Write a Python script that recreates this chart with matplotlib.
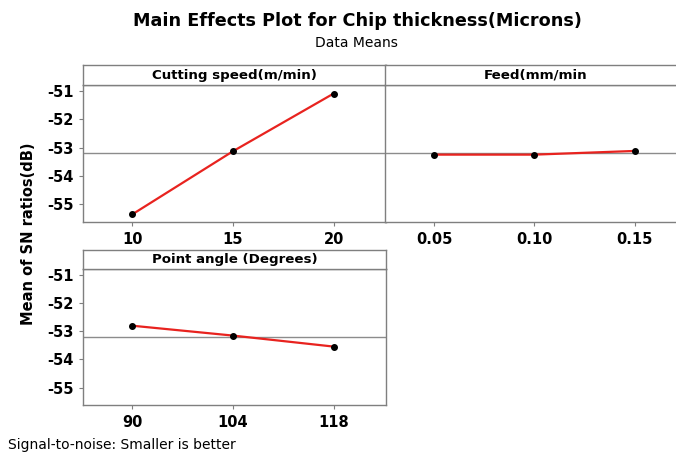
import matplotlib
matplotlib.use("Agg")
import matplotlib.pyplot as plt
import numpy as np

# Data
speed_levels = ["10", "15", "20"]
speed_sn = [-55.35, -53.13, -51.10]
feed_levels = ["0.05", "0.10", "0.15"]
feed_sn = [-53.25, -53.25, -53.12]
angle_levels = ["90", "104", "118"]
angle_sn = [-52.81, -53.16, -53.55]
overall_mean = -53.2
yticks = [-55, -54, -53, -52, -51]

titles = ["Cutting speed(m/min)", "Feed(mm/min", "Point angle (Degrees)"]

W, H = 676, 462
fig = plt.figure(figsize=(W / 100, H / 100), dpi=100)
plt.rcParams['font.family'] = ['DejaVu Sans']

frame_col = "#7f7f7f"

def fx(px):
    return px / W

def fy(py):
    return 1 - py / H

def make_panel(x0, x1, ytop_header, y_header_bot, y_bot, levels, values, title, show_y):
    ax = fig.add_axes([fx(x0), fy(y_bot), fx(x1) - fx(x0), fy(y_header_bot) - fy(y_bot)])
    hx = fig.add_axes([fx(x0), fy(y_header_bot), fx(x1) - fx(x0), fy(ytop_header) - fy(y_header_bot)])
    hx.set_xticks([]); hx.set_yticks([])
    for s in hx.spines.values():
        s.set_color(frame_col); s.set_linewidth(1.0)
    hx.text(0.5, 0.5, title, ha="center", va="center", fontsize=9.6, fontweight="bold", transform=hx.transAxes)
    x = np.arange(len(levels))
    ax.axhline(overall_mean, color="#8c8c8c", lw=1.0, zorder=1)
    ax.plot(x, values, color="#e8231f", lw=1.6, zorder=2)
    ax.plot(x, values, "o", color="black", ms=4, zorder=3)
    ax.set_xlim(-0.49, 2.52)
    ax.set_ylim(-55.62, -50.8)
    ax.set_xticks(x)
    ax.set_xticklabels(levels, fontsize=10.5, fontweight="bold")
    ax.set_yticks(yticks)
    if show_y:
        ax.set_yticklabels([str(t) for t in yticks], fontsize=10.5, fontweight="bold")
    else:
        ax.tick_params(axis="y", left=False, labelleft=False)
    ax.tick_params(axis="both", direction="out", length=3, color=frame_col, pad=4)
    for s in ax.spines.values():
        s.set_color(frame_col); s.set_linewidth(1.0)
    return ax

make_panel(83, 386, 65, 85, 222, speed_levels, speed_sn, titles[0], True)
make_panel(385, 687, 65, 85, 222, feed_levels, feed_sn, titles[1], False)
make_panel(83, 386, 250, 269, 405, angle_levels, angle_sn, titles[2], True)

fig.text(fx(357), fy(21), "Main Effects Plot for Chip thickness(Microns)", ha="center", va="center",
         fontsize=12.7, fontweight="bold")
fig.text(fx(356), fy(43), "Data Means", ha="center", va="center", fontsize=10)
fig.text(fx(29), fy(234), "Mean of SN ratios(dB)", ha="center", va="center", rotation=90,
         fontsize=10.5, fontweight="bold")
fig.text(fx(8), fy(445), "Signal-to-noise: Smaller is better", ha="left", va="center", fontsize=10)

fig.savefig("out.png", dpi=100, facecolor="white")
